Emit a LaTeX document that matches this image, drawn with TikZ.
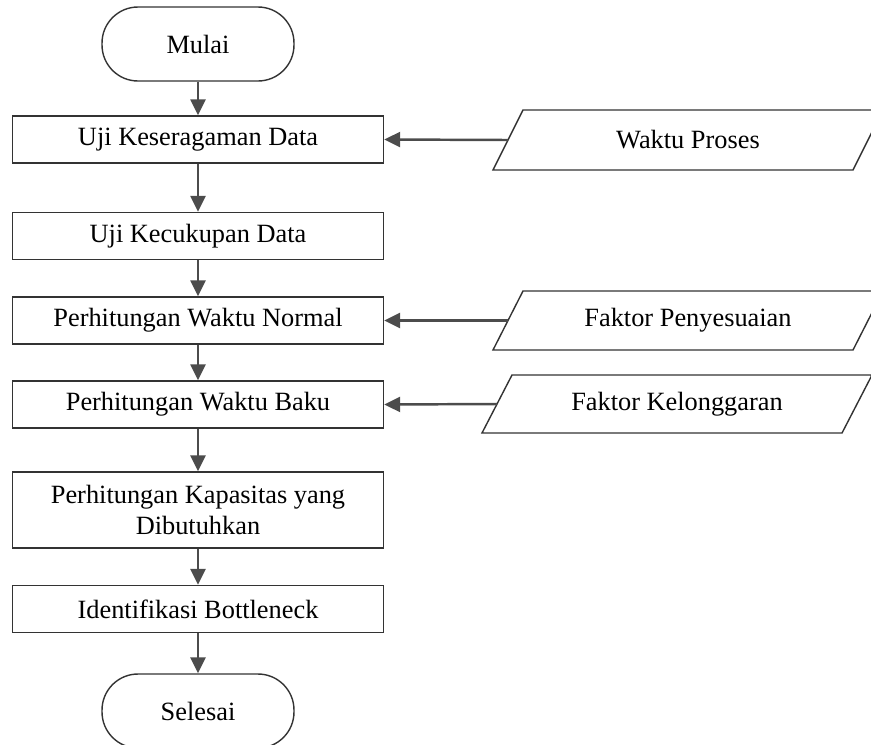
\documentclass[tikz,border=0pt]{standalone}
\usepackage{fontspec}
\setmainfont{Liberation Serif}
\usetikzlibrary{arrows.meta}

\tikzset{
  proses/.style={draw=black!80, line width=0.8pt, minimum width=7.42cm, minimum height=0.94cm, inner sep=0pt, align=center},
  terminal/.style={draw=black!80, line width=0.8pt, rounded corners=0.72cm, minimum width=3.84cm, minimum height=1.48cm, inner sep=0pt},
  masukan/.style={draw=black!80, line width=0.8pt},
  panah/.style={-{Triangle[length=0.32cm,width=0.3cm]}, line width=1.4pt, draw=black!70}
}

\begin{document}
\begin{tikzpicture}[x=0.02cm, y=-0.02cm, every node/.style={font=\fontsize{15}{18}\selectfont}]
            \useasboundingbox (0,0) rectangle (871,744);
            \clip (0,0) rectangle (871,744);

            % Alur utama
            \node[terminal] (mulai) at (198,44) {Mulai};
            \node[proses] (seragam) at (198,139.5) {Uji Keseragaman Data};
            \node[proses] (cukup) at (198,236) {Uji Kecukupan Data};
            \node[proses] (normal) at (198,320.5) {Perhitungan Waktu Normal};
            \node[proses] (baku) at (198,404.5) {Perhitungan Waktu Baku};
            \node[proses, minimum height=1.52cm] (kapasitas) at (198,510) {Perhitungan Kapasitas yang\\Dibutuhkan};
            \node[proses] (bottleneck) at (198,609) {Identifikasi Bottleneck};
            \node[terminal] (selesai) at (198,711) {Selesai};

            % Data masukan
            \draw[masukan] (493,170) -- (523,110) -- (883,110) -- (853,170) -- cycle;
            \node (proses) at (688,140) {Waktu Proses};
            \coordinate (proses-in) at (508,140);

            \draw[masukan] (493,350) -- (523,291) -- (883,291) -- (853,350) -- cycle;
            \node (sesuai) at (688,320.5) {Faktor Penyesuaian};
            \coordinate (sesuai-in) at (508,320.5);

            \draw[masukan] (482,433) -- (512,375) -- (872,375) -- (842,433) -- cycle;
            \node (longgar) at (677,404) {Faktor Kelonggaran};
            \coordinate (longgar-in) at (497,404);

            % Panah
            \draw[panah] (mulai) -- (seragam);
            \draw[panah] (seragam) -- (cukup);
            \draw[panah] (cukup) -- (normal);
            \draw[panah] (normal) -- (baku);
            \draw[panah] (baku) -- (kapasitas);
            \draw[panah] (kapasitas) -- (bottleneck);
            \draw[panah] (bottleneck) -- (selesai);

            \draw[panah] (proses-in) -- (seragam.east);
            \draw[panah] (sesuai-in) -- (normal.east);
            \draw[panah] (longgar-in) -- (baku.east);
\end{tikzpicture}
\end{document}
